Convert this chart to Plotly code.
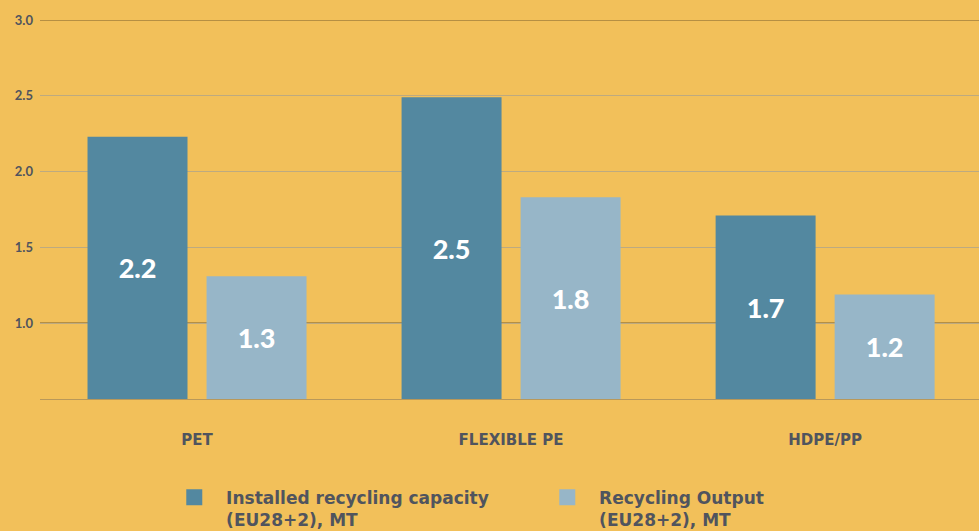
import plotly.graph_objects as go

categories = ["PET", "FLEXIBLE PE", "HDPE/PP"]
installed_capacity = [2.23, 2.49, 1.71]
recycling_output = [1.31, 1.83, 1.19]
series_names = ["Installed recycling capacity", "Recycling Output"]
series_unit = "(EU28+2), MT"
y_ticks = [1.0, 1.5, 2.0, 2.5, 3.0]
y_tick_labels = ["1.0", "1.5", "2.0", "2.5", "3.0"]
dark_grid_values = [1.0, 3.0]
axis_floor = 0.5

BG = "#F2C05A"
DARK = "#5388A0"
LIGHT = "#97B6C8"
TXT = "#50545E"

fig = go.Figure()
for vals, col in [(installed_capacity, DARK), (recycling_output, LIGHT)]:
    fig.add_trace(go.Bar(
        x=categories, y=[v - axis_floor for v in vals], base=axis_floor,
        customdata=vals,
        marker=dict(color=col, line=dict(width=0)),
        texttemplate="%{customdata:.1f}", textposition="inside", insidetextanchor="middle",
        textfont=dict(family="Lato", size=27, color="white", weight=900),
        showlegend=False, hoverinfo="skip",
    ))
# legend entries
pad = "\u00a0\u00a0"
for name, col in zip(series_names, [DARK, LIGHT]):
    fig.add_trace(go.Scatter(
        x=[None], y=[None], mode="markers", name=f"{pad}{name}<br>{pad}{series_unit}",
        marker=dict(symbol="square", size=18, color=col),
    ))

for v in dark_grid_values:
    fig.add_shape(type="line", xref="paper", yref="y", x0=0, x1=1, y0=v, y1=v,
                  line=dict(color="#7A5F2C", width=1.2), layer="below")

fig.update_layout(
    width=979, height=531,
    paper_bgcolor=BG, plot_bgcolor=BG,
    margin=dict(l=40, r=0, t=20, b=132, autoexpand=False),
    barmode="group", bargap=0.242, bargroupgap=0.16,
    showlegend=True,
    legend=dict(orientation="h", x=0.143, xanchor="left", y=-0.213, yanchor="top",
                valign="top",
                font=dict(family="DejaVu Sans", size=17, color=TXT, weight=700),
                entrywidth=328, bgcolor="rgba(0,0,0,0)", traceorder="normal"),
    xaxis=dict(showgrid=False, showline=True, linecolor="#B8985A", linewidth=1,
               range=[-0.5, 2.49],
               tickfont=dict(family="DejaVu Sans", size=15, color=TXT, weight=600),
               ticks="", ticklabelstandoff=27, fixedrange=True),
    yaxis=dict(range=[0.5, 3.0], tickvals=y_ticks, ticktext=y_tick_labels,
               showgrid=True, gridcolor="#BDAA80", gridwidth=1, zeroline=False,
               tickfont=dict(family="Lato", size=13, color=TXT, weight=700),
               ticks="", ticklabelstandoff=6, showline=False),
    font=dict(family="Open Sans", color=TXT),
)

fig.write_html("out.html", config={"displayModeBar": False},
               post_script="document.body.style.margin='0';document.body.style.background='#F2C05A';")
